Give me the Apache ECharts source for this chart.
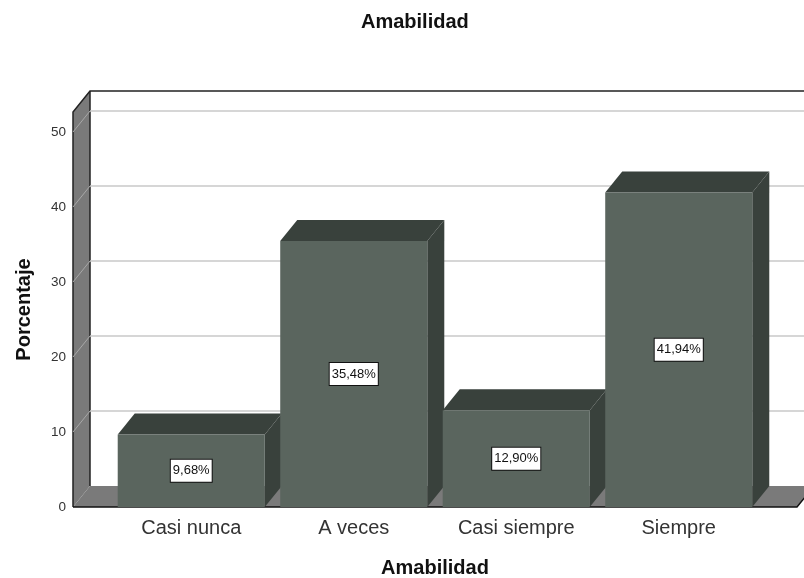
<!DOCTYPE html>
<html>
<head>
<meta charset="utf-8">
<style>html,body{margin:0;padding:0;background:#fff}#main{width:804px;height:578px}</style>
<script src="https://cdn.jsdelivr.net/npm/echarts@6/dist/echarts.min.js"></script>
</head>
<body>
<div id="main"></div>
<script>
var categories = ['Casi nunca', 'A veces', 'Casi siempre', 'Siempre'];
var percentages = [9.68, 35.48, 12.90, 41.94];
var yTicks = [0, 10, 20, 30, 40, 50];

var FONT = '"Liberation Sans", Arial, sans-serif';
var DX = 17, DY = -21;      // profundidad del efecto 3D
var SIDE = 37;              // margen del suelo a cada lado de las categorias
var BAR_RATIO = 0.905;
var FRONT = '#5a655e', DARK = '#39413c', WALL = '#7a7a7a';

var chart = echarts.init(document.getElementById('main'), null, { renderer: 'canvas' });

function poly(points, fill, z) {
  return { type: 'polygon', z2: z || 0, shape: { points: points }, style: { fill: fill, stroke: null } };
}
function line(points, stroke, width, z) {
  return { type: 'polyline', z2: z || 0, shape: { points: points }, style: { fill: null, stroke: stroke, lineWidth: width } };
}

// paredes y suelo
function renderFrame(params, api) {
  var cs = params.coordSys;
  var x0 = cs.x - SIDE, x1 = cs.x + cs.width + SIDE;
  var bottom = api.coord([0, 0])[1], top = cs.y;
  return {
    type: 'group',
    children: [
      poly([[x0, top], [x0 + DX, top + DY], [x0 + DX, bottom + DY], [x0, bottom]], WALL),
      poly([[x0, bottom], [x0 + DX, bottom + DY], [x1 + DX, bottom + DY], [x1, bottom]], WALL),
      line([[x0, bottom], [x0, top], [x0 + DX, top + DY], [x1 + DX, top + DY]], '#222', 1.5, 2),
      line([[x0 + DX, top + DY], [x0 + DX, bottom + DY]], '#222', 1.5, 2),
      line([[x0, bottom], [x1, bottom], [x1 + DX, bottom + DY]], '#111', 1.5, 2)
    ]
  };
}

// lineas de rejilla sobre las paredes
function renderGridLine(params, api) {
  var cs = params.coordSys;
  var y = api.coord([0, api.value(0)])[1];
  var x0 = cs.x - SIDE, x1 = cs.x + cs.width + SIDE;
  if (api.value(0) === 0) return { type: 'group', children: [] };
  return {
    type: 'group',
    children: [
      line([[x0, y], [x0 + DX, y + DY]], '#a8a8a8', 1),
      line([[x0 + DX, y + DY], [x1 + DX, y + DY]], '#c9c9c9', 1.5)
    ]
  };
}

function renderBar(params, api) {
  var i = api.value(0), v = api.value(1);
  var c = api.coord([i, v]), b = api.coord([i, 0]);
  var w = api.size([1, 0])[0] * BAR_RATIO;
  var l = c[0] - w / 2, r = c[0] + w / 2, t = c[1], y = b[1];
  return {
    type: 'group',
    children: [
      poly([[l, t], [l + DX, t + DY], [r + DX, t + DY], [r, t]], DARK),
      poly([[r, t], [r + DX, t + DY], [r + DX, y + DY], [r, y]], DARK),
      poly([[l, t], [r, t], [r, y], [l, y]], FRONT),
      {
        type: 'text',
        z2: 5,
        x: c[0],
        y: (t + y) / 2,
        style: {
          text: v.toFixed(2).replace('.', ',') + '%',
          align: 'center',
          verticalAlign: 'middle',
          font: '13px ' + FONT,
          fill: '#111',
          backgroundColor: '#fff',
          borderColor: '#111',
          borderWidth: 1,
          padding: [5, 2, 4, 2]
        }
      }
    ]
  };
}

var option = {
  backgroundColor: '#fff',
  animation: false,
  title: {
    text: 'Amabilidad',
    left: 356,
    top: 7,
    textStyle: { fontFamily: FONT, fontSize: 20, fontWeight: 'bold', color: '#111' }
  },
  grid: { left: 110, width: 650, top: 112, height: 395, outerBoundsMode: 'none' },
  xAxis: {
    type: 'category',
    data: categories,
    axisLine: { show: false },
    axisTick: { show: false },
    axisLabel: { fontFamily: FONT, fontSize: 20, color: '#333', margin: 11 },
    name: 'Amabilidad',
    nameLocation: 'middle',
    nameGap: 51,
    nameTextStyle: { fontFamily: FONT, fontSize: 20, fontWeight: 'bold', color: '#111' }
  },
  yAxis: {
    type: 'value',
    min: 0,
    max: 395 / 7.5,
    offset: 37,
    axisLine: { show: false },
    axisTick: { show: false },
    splitLine: { show: false },
    axisLabel: { customValues: yTicks, fontFamily: FONT, fontSize: 13.5, color: '#333', margin: 7 },
    name: 'Porcentaje',
    nameLocation: 'middle',
    nameGap: 39,
    nameRotate: 90,
    nameTextStyle: { fontFamily: FONT, fontSize: 20, fontWeight: 'bold', color: '#111' }
  },
  series: [
    { type: 'custom', name: 'frame', z: 1, silent: true, renderItem: renderFrame, data: [0] },
    { type: 'custom', name: 'grid', z: 2, silent: true, renderItem: renderGridLine, encode: { y: 0 }, data: yTicks.map(function (t) { return [t]; }) },
    {
      type: 'custom',
      name: 'Porcentaje',
      z: 3,
      silent: true,
      renderItem: renderBar,
      encode: { x: 0, y: 1 },
      data: percentages.map(function (p, i) { return [i, p]; })
    }
  ]
};

chart.setOption(option);
</script>
</body>
</html>
